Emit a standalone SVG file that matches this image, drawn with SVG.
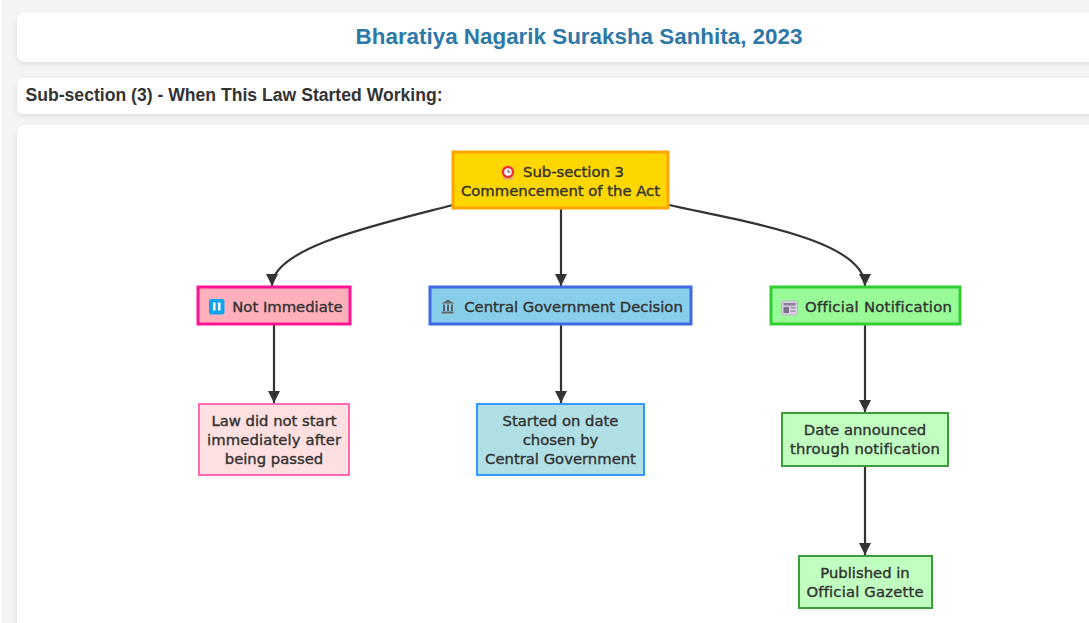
<svg xmlns="http://www.w3.org/2000/svg" width="1089" height="623" viewBox="0 0 1089 623">
<defs>
<marker id="arrow" markerUnits="userSpaceOnUse" markerWidth="13" markerHeight="13" refX="6" refY="12" orient="0" overflow="visible"><path d="M0,0 L12,0 L6,12 Z" fill="#333"/></marker>
<filter id="sh" x="-5%" y="-20%" width="110%" height="150%"><feDropShadow dx="0" dy="2" stdDeviation="2.5" flood-color="#000" flood-opacity="0.1"/></filter>
</defs>
<style>
.panel{fill:#fff;filter:url(#sh)}
.n{font-family:"DejaVu Sans",Verdana,sans-serif;font-size:14.8px;font-weight:500;fill:#333;text-anchor:middle;stroke:#333;stroke-width:.4px;font-variant-ligatures:none}
.c{fill:none;stroke:#333;stroke-width:2.2px;marker-end:url(#arrow)}
</style>
<rect width="1089" height="623" fill="#f4f4f4"/>
<rect width="2" height="623" fill="#fbfbfb"/>
<g id="header">
<rect class="panel" x="17" y="12" width="1090" height="50" rx="8"/>
<text x="579" y="44" font-family="'Liberation Sans',Arial,sans-serif" font-size="22.4px" font-weight="700" fill="#2e78a8" text-anchor="middle">Bharatiya Nagarik Suraksha Sanhita, 2023</text>
</g>
<g id="subheader">
<rect class="panel" x="17" y="78" width="1090" height="36" rx="6"/>
<text x="25.500" y="101" font-family="'Liberation Sans',Arial,sans-serif" font-size="17.600px" font-weight="700" fill="#333">Sub-section (3) - When This Law Started Working:</text>
</g>
<rect class="panel" x="17" y="125" width="1090" height="510" rx="8"/>
<g id="connectors">
<path class="c" d="M453,205 C380,224 272,247 272,286"/>
<path class="c" d="M561,209 L561,286"/>
<path class="c" d="M669,205 C745,222 865,240 865,286"/>
<path class="c" d="M274,325 L274,403"/>
<path class="c" d="M561,325 L561,403"/>
<path class="c" d="M865,325 L865,412"/>
<path class="c" d="M865,467 L865,555"/>
</g>
<g id="n-root">
<rect x="453" y="152" width="215" height="56" fill="#ffd700" stroke="#ffa500" stroke-width="3"/>
<rect x="503" y="177" width="10" height="2.500" fill="#e0b070"/><circle cx="508" cy="172" r="6.200" fill="#e8323c"/><circle cx="508" cy="172" r="3.800" fill="#fff"/><path d="M508,169.500V172H510.500" fill="none" stroke="#333" stroke-width=".9"/>
<text class="n" x="573.500" y="177">Sub-section 3</text>
<text class="n" x="560.500" y="196">Commencement of the Act</text>
</g>
<g id="n-immediate">
<rect x="198" y="287" width="152" height="37" fill="#ffb0ba" stroke="#ff1493" stroke-width="3"/>
<rect x="209" y="299" width="15.500" height="15.500" rx="2.500" fill="#0ea5ee"/><rect x="213" y="302.500" width="2.500" height="8" fill="#fff"/><rect x="218" y="302.500" width="2.500" height="8" fill="#fff"/>
<text class="n" x="287.500" y="312">Not Immediate</text>
</g>
<g id="n-gov">
<rect x="430" y="287" width="261" height="37" fill="#87ceeb" stroke="#4169e1" stroke-width="3"/>
<path d="M441.500,303.500 L448,299.500 L454.500,303.500 Z M442.500,311.500H453.500V313.500H441.500V311.500Z" fill="#666"/><path d="M444,304.500V311M448,304.500V311M452,304.500V311" stroke="#555" stroke-width="1.800"/>
<text class="n" x="573.500" y="312">Central Government Decision</text>
</g>
<g id="n-notif">
<rect x="771" y="287" width="189" height="37" fill="#98fb98" stroke="#32cd32" stroke-width="3"/>
<rect x="781.500" y="301" width="16" height="14" rx="1.500" fill="#d9cfe0" stroke="#bfb5c9"/><rect x="783.500" y="303" width="12" height="2.500" fill="#8b8296"/><rect x="783.500" y="307" width="5.500" height="6" fill="#7a7186"/><rect x="790.500" y="307" width="5" height="1.500" fill="#9a92a6"/><rect x="790.500" y="310.500" width="5" height="1.500" fill="#9a92a6"/>
<text class="n" x="878.500" y="312" textLength="147">Official Notification</text>
</g>
<g id="n-law">
<rect x="199" y="404" width="150" height="71" fill="#ffe0e0" stroke="#ff69b4" stroke-width="2"/>
<text class="n" x="274" y="426">Law did not start</text>
<text class="n" x="274" y="445" textLength="134">immediately after</text>
<text class="n" x="274" y="464">being passed</text>
</g>
<g id="n-date">
<rect x="477" y="404" width="167" height="71" fill="#b0e0e6" stroke="#3399ff" stroke-width="2"/>
<text class="n" x="560.500" y="426">Started on date</text>
<text class="n" x="560.500" y="445">chosen by</text>
<text class="n" x="560.500" y="464">Central Government</text>
</g>
<g id="n-announce">
<rect x="782" y="413" width="166" height="53" fill="#c1ffc1" stroke="#3a9e3a" stroke-width="2"/>
<text class="n" x="865" y="435">Date announced</text>
<text class="n" x="865" y="454" textLength="150">through notification</text>
</g>
<g id="n-gazette">
<rect x="799" y="556" width="133" height="52" fill="#c1ffc1" stroke="#3a9e3a" stroke-width="2"/>
<text class="n" x="865" y="578">Published in</text>
<text class="n" x="865" y="597" textLength="117">Official Gazette</text>
</g>
</svg>
